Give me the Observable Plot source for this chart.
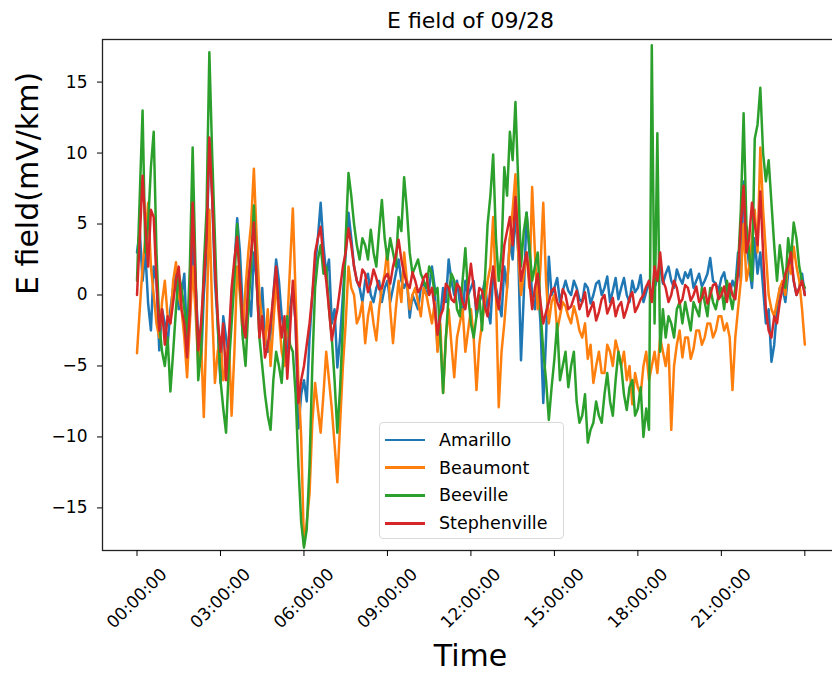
<!DOCTYPE html>
<html><head><meta charset="utf-8">
<script src="https://cdn.jsdelivr.net/npm/d3@7"></script>
<script src="https://cdn.jsdelivr.net/npm/@observablehq/plot@0.6"></script>
<style>
html,body{margin:0;padding:0;background:#fff;overflow:hidden;}
#wrap{position:relative;width:832px;height:675px;overflow:hidden;background:#fff;}
#wrap svg{max-width:none !important;display:block;}
.legend{position:absolute;left:379px;top:422px;width:185px;height:117px;border:1px solid #d9d9d9;border-radius:4px;background:rgba(255,255,255,0.85);font-family:"DejaVu Sans";font-size:17.5px;color:#000;box-sizing:border-box;}
.row{position:absolute;left:0;height:28px;display:flex;align-items:center;white-space:nowrap;}
.sw{display:inline-block;width:40px;height:2.5px;margin-left:5px;margin-right:14px;}
</style></head><body><div id="wrap"></div>
<script>
const title = "E field of 09/28";
const yLabel = "E field(mV/km)";
const xLabel = "Time";
const seriesNames = ["Amarillo", "Beaumont", "Beeville", "Stephenville"];
const seriesColors = ["#1f77b4", "#ff7f0e", "#2ca02c", "#d62728"];
const sampleStepHours = 0.1;
const yTicks = [-15, -10, -5, 0, 5, 10, 15];
const yTickLabels = ["\u221215", "\u221210", "\u22125", "0", "5", "10", "15"];
const xTickHours = [0, 3, 6, 9, 12, 15, 18, 21, 24];
const xTickLabels = ["00:00:00", "03:00:00", "06:00:00", "09:00:00", "12:00:00", "15:00:00", "18:00:00", "21:00:00"];

const amarillo = [3.0, 4.5, 1.0, 3.0, -0.6, -2.5, 2.0, 1.0, -3.9, -1.0,
 -2.0, -3.5, -1.0, 0.5, 1.5, -1.0, 0.0, 1.5, -3.5, -1.5,
 4.0, 1.0, -3.0, -5.0, 0.0, 3.0, 11.0, 7.0, 1.0, -2.0,
 -6.2, -1.5, -3.0, -4.5, 0.0, 2.0, 5.4, 3.0, -1.0, -3.0,
 0.0, -1.5, 3.0, 1.0, -2.0, 0.5, -3.0, -4.0, -2.7, 0.0,
 2.5, 1.0, -1.5, -2.5, -4.0, -1.0, 0.5, -2.0, -9.4, -7.0,
 -6.0, -7.5, -3.0, 0.0, 2.0, 4.0, 6.5, 3.5, 1.5, 2.5,
 -2.0, -1.0, -5.1, -3.0, 0.0, 3.0, 5.8, 4.0, 2.0, 1.0,
 0.5, -0.5, 1.0, 1.5, 0.0, -0.5, 0.5, 1.0, -0.5, 0.5,
 1.0, -0.5, 0.5, 1.5, 2.5, 1.0, 0.5, 1.0, -1.6, 0.0,
 -0.5, -1.0, 0.5, 1.0, 0.0, 0.5, 2.0, 0.5, -3.9, -1.5,
 0.5, -0.5, 2.5, 1.0, 0.0, 1.0, -0.5, -1.5, 1.0, 0.0,
 0.5, 1.0, -1.5, -0.5, 0.0, 1.0, -1.0, -2.0, 1.5, 0.5,
 -0.5, -1.5, 2.0, 0.5, 4.0, 2.5, 5.8, 3.0, -4.6, 0.0,
 5.8, 3.0, 0.0, -1.0, 1.0, -2.0, -7.6, -3.0, 2.7, 0.0,
 0.5, 1.2, -0.5, 0.3, 1.0, 0.3, 0.0, 1.0, 0.5, -0.3,
 -0.5, 0.8, 0.5, -0.6, 0.0, 0.8, 1.0, 0.0, 0.5, 1.3,
 -0.5, 0.3, 1.2, -0.3, 0.5, 1.2, 0.0, -0.5, 1.0, 0.2,
 0.5, 1.4, -0.5, 0.2, 1.0, -0.3, 0.5, 1.2, 2.0, 0.8,
 1.5, 2.0, 1.0, 0.5, 1.8, 1.2, 0.8, 1.6, 1.2, 1.8,
 0.5, 1.0, 1.5, 0.6, 1.0, 1.5, 2.6, 1.0, 0.8, 0.3,
 1.2, 1.6, 0.5, 0.0, 1.0, 0.5, 3.0, 1.0, 8.0, 4.0,
 2.0, 0.5, 4.0, 1.5, 3.0, 0.5, -2.0, -1.0, -4.7, -3.5,
 -1.0, 0.5, 0.5, -0.5, 1.5, 2.5, 1.0, 0.0, 0.5, 1.5,
 0.0];
const beaumont = [-4.1, -1.0, 2.0, 4.0, 6.5, 2.0, 0.0, -2.0, -3.0, -0.5,
 1.0, -1.5, -2.0, 1.0, 2.3, 0.0, -1.0, -3.0, -5.8, -2.0,
 2.0, -1.0, -5.0, -3.0, -8.6, -2.0, 6.0, -1.0, -6.2, -4.0,
 -3.0, -6.0, -5.0, -3.0, -8.5, -4.0, 2.0, 0.0, -2.8, 0.5,
 3.0, 5.0, 8.9, 4.0, 0.0, -2.0, -3.5, -1.0, -5.0, -2.0,
 1.0, -1.5, -4.0, -5.0, -2.0, 2.0, 6.1, 0.0, -6.0, -10.0,
 -17.6, -16.0, -14.0, -9.0, -6.2, -8.0, -9.7, -7.0, -4.0, -6.0,
 -8.0, -10.5, -13.2, -9.0, -5.0, -2.0, 2.0, 0.5, 0.0, -2.0,
 -1.5, -0.5, -3.4, -1.5, -0.5, -2.0, -3.2, -1.0, 0.5, 1.5,
 3.2, -1.0, -3.4, -1.0, 1.0, -0.5, 3.0, 1.0, -1.0, 0.0,
 0.5, -0.5, -1.5, 0.5, 0.0, -1.0, -2.0, -0.5, -4.0, -2.0,
 -6.9, -3.0, -1.0, -3.5, -5.8, -3.0, -2.0, -1.0, -4.0, -2.5,
 -1.0, -3.0, -6.7, -3.5, -2.0, -0.5, 1.0, 2.0, 5.5, 0.0,
 -7.9, -4.0, -2.0, 0.5, 4.0, 6.0, 8.5, 3.0, 0.0, 1.5,
 3.0, 0.5, 7.6, 3.0, -1.0, 2.0, 6.5, 1.0, -2.0, -0.5,
 0.0, -2.5, -1.5, -0.5, -0.8, -1.5, -2.0, -0.8, -1.5, -2.5,
 -3.0, -2.0, -4.5, -3.5, -6.2, -5.0, -4.0, -5.5, -5.5, -3.5,
 -4.0, -5.0, -3.2, -4.0, -5.0, -4.0, -6.0, -5.0, -7.7, -5.5,
 -6.5, -7.0, -5.0, -4.0, -6.0, -5.0, -4.0, -5.5, -3.0, -4.0,
 -5.0, -3.5, -9.5, -5.0, -3.5, -2.5, -4.4, -3.0, -3.0, -4.5,
 -3.8, -2.5, -2.5, -3.5, -3.0, -2.0, -2.0, -3.0, -2.5, -1.5,
 -1.5, -2.5, -2.0, -3.0, -6.7, -3.0, -1.0, 1.0, 5.0, 1.0,
 2.0, 4.0, 6.0, 3.0, 10.4, 6.0, 3.0, 0.0, -1.0, -1.5,
 -0.5, 0.5, 1.0, 0.0, 2.5, 1.5, 3.4, 2.0, 1.0, -1.0,
 -3.5];
const beeville = [1.0, 7.0, 13.0, 3.0, 5.0, 9.0, 11.5, 3.0, -2.0, -4.0,
 -5.0, -3.0, -6.8, -4.0, -1.0, 1.5, 0.5, -1.0, -3.0, 2.0,
 10.4, 2.0, -6.0, -4.0, 2.0, 6.0, 17.1, 10.0, 4.0, -2.0,
 -6.0, -8.0, -9.7, -5.0, -2.0, 1.0, 5.0, 1.0, -3.0, -5.0,
 -1.0, 2.0, 6.3, 1.0, -3.0, -5.0, -7.0, -8.5, -9.5, -6.0,
 -4.0, -5.0, -6.2, -3.0, -1.5, -3.5, -4.0, -7.0, -12.0, -16.0,
 -17.8, -16.5, -12.0, -5.0, 0.5, 2.5, 3.5, 1.5, 2.0, -1.0,
 -3.0, -6.0, -9.7, -6.5, -2.0, 4.0, 8.6, 7.0, 5.0, 3.5,
 2.5, 4.0, 3.5, 2.5, 4.6, 3.0, 2.0, 4.5, 6.7, 4.0,
 2.5, 4.0, 3.0, 2.0, 5.5, 4.5, 8.3, 6.0, 3.0, 1.5,
 2.0, 2.5, 1.5, 1.0, 0.5, 2.0, 1.5, 0.0, 0.5, -3.0,
 -6.9, -3.0, 0.0, 1.5, 1.0, -1.0, -1.5, 1.0, 3.3, 0.0,
 -2.0, -3.0, -1.5, 0.0, -2.5, 1.0, 5.0, 7.0, 9.9, 4.0,
 1.0, 3.0, 9.0, 7.0, 11.5, 9.5, 13.6, 8.0, 2.0, 4.5,
 5.8, 3.5, 1.0, 2.0, 3.0, -1.0, -4.0, -6.0, -8.8, -6.5,
 -4.5, -2.0, -6.0, -5.0, -4.0, -6.5, -5.0, -4.0, -7.5, -9.0,
 -8.5, -7.0, -10.4, -9.5, -9.0, -7.5, -8.5, -9.0, -7.0, -5.5,
 -7.5, -8.5, -6.0, -4.0, -5.0, -7.0, -8.1, -6.5, -6.0, -8.5,
 -8.0, -6.5, -10.0, -8.0, -9.5, 17.6, -2.0, 11.4, -4.0, -1.0,
 -3.0, -1.5, -2.0, -3.0, -1.0, -0.5, -2.0, -0.5, -1.5, -2.5,
 -0.5, -1.0, -1.5, 0.5, -0.5, -1.5, 0.5, -0.5, -1.0, 0.0,
 0.5, -1.0, 1.0, 0.0, -1.0, 0.5, 2.0, 6.0, 12.8, 5.0,
 3.0, 1.0, 11.0, 12.0, 14.6, 10.0, 8.0, 9.5, 6.5, 3.5,
 1.0, 3.5, 2.0, 0.5, 4.0, 2.5, 5.1, 4.0, 2.0, 1.0,
 0.5];
const stephenville = [0.0, 4.0, 8.4, 5.0, 2.0, 6.0, 5.5, 1.0, -2.5, -1.0,
 -3.5, -1.5, -2.0, -0.5, 1.0, 2.0, -1.0, -2.0, -4.4, -1.0,
 6.5, 1.0, -3.9, -2.0, 1.0, 4.0, 11.1, 7.0, 2.0, -1.5,
 -4.0, -2.0, -6.0, -3.0, 0.5, 2.5, 4.1, 1.0, -2.0, -3.0,
 1.0, 3.0, 5.1, 1.0, -3.0, -1.5, -4.4, -3.5, -2.0, 0.0,
 2.0, -1.0, -3.0, -1.5, -5.9, -2.5, 1.0, -2.0, -7.6, -6.0,
 -5.0, -3.5, -2.0, 0.0, 3.0, 4.0, 4.8, 2.5, 1.0, -1.0,
 -3.2, -2.0, -1.0, 0.5, 2.0, 3.0, 4.7, 3.5, 2.0, 1.0,
 0.6, 1.8, 1.5, 0.2, 0.8, 1.8, 1.2, 0.4, 0.5, 1.2,
 1.5, 0.8, 2.0, 2.8, 3.9, 2.5, 1.5, 0.8, 0.5, 1.6,
 1.0, 0.2, 0.5, 1.2, 1.5, 0.0, 0.5, -1.0, -2.8, -1.5,
 -1.0, 0.8, 0.5, -0.3, -0.5, 0.8, 0.5, -0.5, -1.0, 0.5,
 2.2, 0.5, -1.0, 0.5, 0.3, -0.8, -1.5, 0.5, 2.0, 0.0,
 -1.0, 1.0, 3.5, 4.5, 5.5, 3.5, 6.9, 4.0, 1.0, 2.0,
 3.0, 1.0, -1.0, 0.5, 1.5, -0.5, -2.0, -1.2, -0.5, 0.3,
 0.5, -0.5, -1.0, 0.4, 0.0, -1.0, -0.8, -0.2, 0.3, -1.0,
 -0.5, 0.2, -1.5, -1.0, -0.5, -1.8, -1.2, -0.3, 0.0, -1.3,
 -0.8, -0.2, -1.5, -0.8, -0.5, -1.6, -1.0, -0.2, 0.2, -1.2,
 -0.8, -0.3, 0.0, 0.6, 1.0, -0.5, 2.0, 1.0, 3.0, 1.0,
 0.5, -0.5, 0.0, 1.0, 0.5, -0.6, -0.3, 0.7, 0.5, -0.4,
 0.0, 0.6, -0.5, -0.2, 0.5, -0.6, 0.0, 0.7, 0.8, -0.3,
 0.0, 0.6, -0.5, 0.8, 0.0, -0.3, 1.5, 5.0, 7.7, 3.0,
 4.0, 6.5, 5.0, 3.5, 7.3, 3.0, -1.0, -2.5, -3.0, -1.5,
 -2.0, -0.5, 0.5, 1.5, 2.0, 3.0, 1.0, 0.0, 0.5, 1.0,
 0.0];

const seriesValues = [amarillo, beaumont, beeville, stephenville];
const data = [];
seriesNames.forEach((name, s) => {
  seriesValues[s].forEach((v, i) => data.push({series: name, hour: i * sampleStepHours, value: v}));
});

const font = "DejaVu Sans";
const chart = Plot.plot({
  width: 840,
  height: 675,
  marginLeft: 102,
  marginRight: 2,
  marginTop: 39,
  marginBottom: 125,
  style: {fontFamily: font, fontSize: "17px", background: "white", color: "#000", maxWidth: "none"},
  x: {domain: [-1.24, 25.21], label: null},
  y: {domain: [-18, 18], label: null},
  marks: [
    ...seriesNames.map((name, s) => Plot.line(data.filter(d => d.series === name), {
      x: "hour", y: "value", stroke: seriesColors[s], strokeWidth: 2.5, clip: true
    })),
    Plot.frame({stroke: "#222", strokeWidth: 1.3}),
    Plot.axisY({ticks: yTicks, tickSize: 5, tickPadding: 10, fontSize: 17, label: null,
      tickFormat: d => yTickLabels[yTicks.indexOf(d)]}),
    Plot.axisX({ticks: xTickHours, tickSize: 6, tickFormat: () => "", label: null}),
    Plot.text(xTickLabels, {x: (d, i) => xTickHours[i], text: d => d, frameAnchor: "bottom", dy: 48,
      rotate: -45, fontSize: 17, textAnchor: "middle", lineAnchor: "middle"}),
    Plot.text([title], {text: d => d, frameAnchor: "top", dy: -19, fontSize: 22, lineAnchor: "middle"}),
    Plot.text([xLabel], {text: d => d, frameAnchor: "bottom", dy: 106, fontSize: 30, lineAnchor: "middle"}),
    Plot.text([yLabel], {text: d => d, frameAnchor: "left", dx: -74, rotate: -90, fontSize: 30, lineAnchor: "middle"})
  ]
});
const wrap = document.getElementById("wrap");
wrap.appendChild(chart);

const legend = document.createElement("div");
legend.className = "legend";
const rowCenters = [17, 44.7, 72.3, 100.3];
seriesNames.forEach((name, s) => {
  const row = document.createElement("div");
  row.className = "row";
  row.style.top = (rowCenters[s] - 14) + "px";
  const sw = document.createElement("span");
  sw.className = "sw";
  sw.style.background = seriesColors[s];
  const label = document.createElement("span");
  label.textContent = name;
  row.appendChild(sw);
  row.appendChild(label);
  legend.appendChild(row);
});
wrap.appendChild(legend);
</script>
</body></html>
